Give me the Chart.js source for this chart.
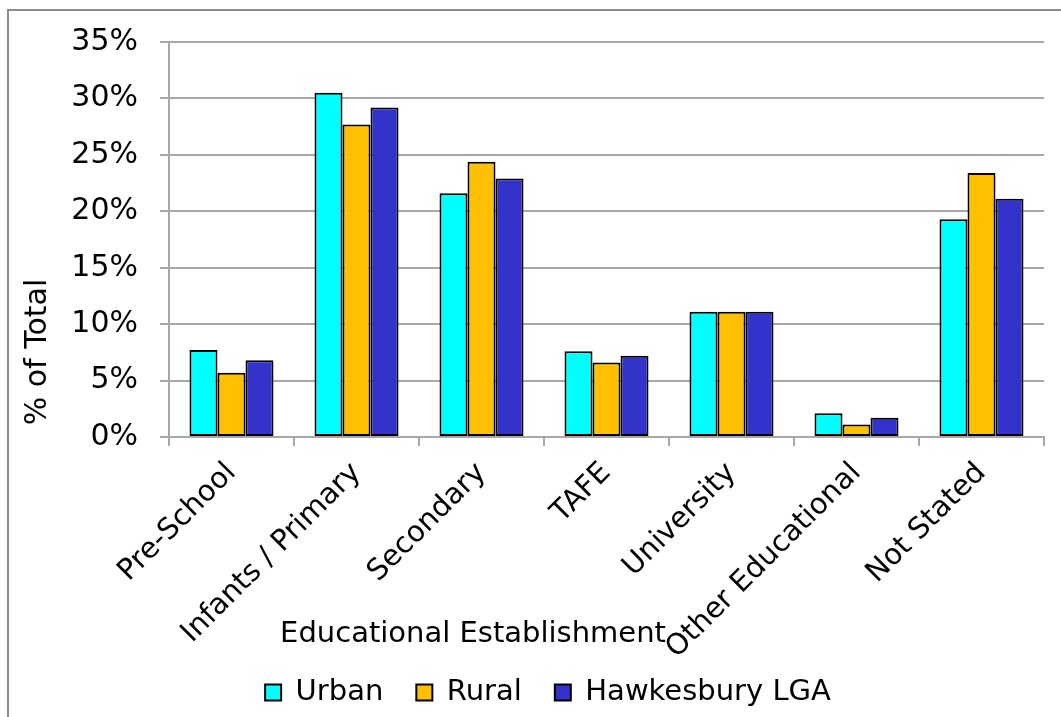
<!DOCTYPE html>
<html>
<head>
<meta charset="utf-8">
<script src="https://cdn.jsdelivr.net/npm/chart.js@4.4.1/dist/chart.umd.min.js"></script>
<style>
  html, body { margin: 0; padding: 0; background: #fff; }
  #wrap { width: 1061px; height: 717px; position: relative; }
</style>
</head>
<body>
<div id="wrap"><canvas id="eduChart"></canvas></div>
<script>
// categories and series (percent of total)
const categories = ['Pre-School', 'Infants / Primary', 'Secondary', 'TAFE', 'University', 'Other Educational', 'Not Stated'];
const urban = [7.7, 30.5, 21.6, 7.6, 11.1, 2.1, 19.3];
const rural = [5.7, 27.7, 24.4, 6.6, 11.1, 1.1, 23.4];
const hawkesbury = [6.8, 29.2, 22.9, 7.2, 11.1, 1.7, 21.1];
const yTicks = [0, 5, 10, 15, 20, 25, 30, 35];

const FONT = 'DejaVu Sans, Verdana, sans-serif';
const gridGrey = '#a8a8a8';
const PLOT_BOTTOM = 437;

// frame + axis titles drawn by hand (they sit off-centre in the original)
const framePlugin = {
    id: 'frame',
    afterLayout(chart) {
        // nudge the legend to the right, as in the original
        chart.legend.left += 22;
        chart.legend.right += 22;
        // let long rotated labels run into the legend band (no clipping)
        chart.scales.x.bottom = chart.height;
    },
    beforeDraw(chart) {
        const c = chart.ctx;
        c.save();
        c.fillStyle = '#fff';
        c.fillRect(0, 0, chart.width, chart.height);
        c.strokeStyle = '#8c8c8c';
        c.lineWidth = 2;
        c.beginPath();
        c.moveTo(8, chart.height);
        c.lineTo(8, 10);
        c.lineTo(chart.width, 10);
        c.stroke();
        c.restore();
    },
    afterDraw(chart) {
        const c = chart.ctx;
        c.save();
        c.fillStyle = '#000';
        c.textAlign = 'center';
        c.textBaseline = 'middle';
        // x title
        c.font = '29px ' + FONT;
        c.fillText('Educational Establishment', 473, 634);
        // y title
        c.font = '30px ' + FONT;
        c.translate(38, 352);
        c.rotate(-Math.PI / 2);
        c.fillText('% of Total', 0, 0);
        c.restore();
    }
};

const dataset = (label, data, color) => ({
    label: label,
    data: data,
    backgroundColor: color,
    borderColor: '#000',
    borderWidth: 2,
    borderSkipped: false,
    categoryPercentage: 0.672,
    barPercentage: 1.0
});

new Chart(document.getElementById('eduChart'), {
    type: 'bar',
    data: {
        labels: categories,
        datasets: [
            dataset('Urban', urban, '#00ffff'),
            dataset('Rural', rural, '#ffc000'),
            dataset('Hawkesbury LGA', hawkesbury, '#3333cc')
        ]
    },
    options: {
        responsive: true,
        maintainAspectRatio: false,
        animation: false,
        layout: {
            padding: { left: 8, top: 42, right: 17, bottom: 0 }
        },
        plugins: {
            legend: {
                display: true,
                position: 'bottom',
                maxHeight: 75,
                labels: {
                    color: '#000',
                    font: { family: FONT, size: 29 },
                    boxWidth: 16,
                    boxHeight: 16,
                    padding: 33
                }
            },
            tooltip: { enabled: false }
        },
        scales: {
            x: {
                grid: {
                    offset: true,
                    drawOnChartArea: false,
                    drawTicks: true,
                    tickLength: 9,
                    color: gridGrey,
                    lineWidth: 2
                },
                border: { color: gridGrey, width: 2 },
                ticks: {
                    color: '#000',
                    font: { family: FONT, size: 29 },
                    maxRotation: 45,
                    minRotation: 45,
                    autoSkip: false,
                    padding: 10
                },
                afterFit(scale) {
                    const lg = scale.chart.legend;
                    scale.height = scale.chart.height - PLOT_BOTTOM - (lg ? lg.height : 0);
                }
            },
            y: {
                min: 0,
                max: 35,
                afterBuildTicks(scale) {
                    scale.ticks = yTicks.map(v => ({ value: v }));
                },
                grid: {
                    color: gridGrey,
                    lineWidth: 2,
                    tickLength: 9
                },
                border: { color: gridGrey, width: 2 },
                ticks: {
                    color: '#000',
                    font: { family: FONT, size: 30 },
                    padding: 22,
                    callback: v => v + '%'
                },
                afterFit(scale) {
                    scale.width = 161;
                }
            }
        }
    },
    plugins: [framePlugin]
});
</script>
</body>
</html>
